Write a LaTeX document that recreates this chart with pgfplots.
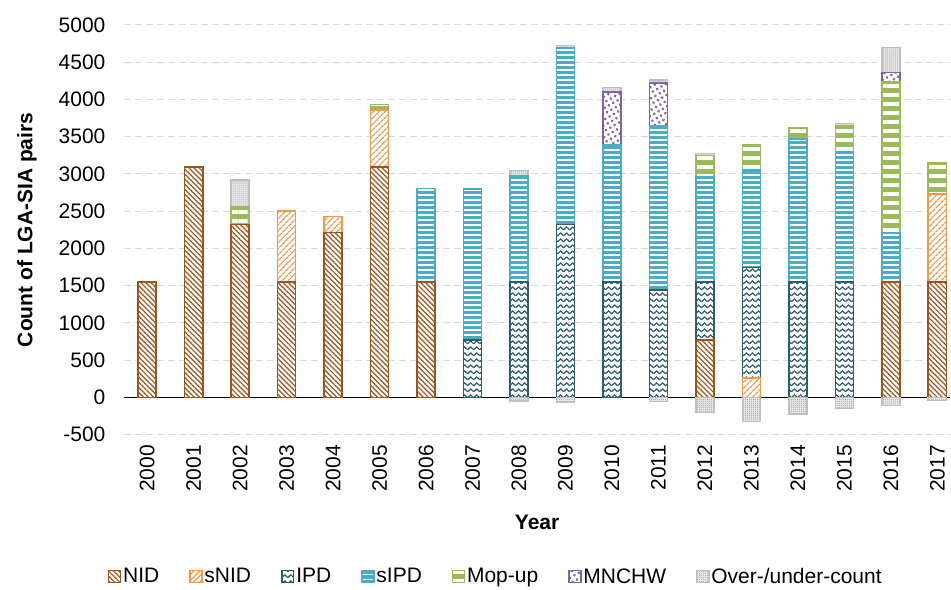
\documentclass[border=0pt]{standalone}
\usepackage{pgfplots}
\pgfplotsset{compat=1.18}
\usepackage{fontspec}
\setmainfont{Liberation Sans}
\usetikzlibrary{patterns,patterns.meta}

\definecolor{nidc}{HTML}{A0521A}
\definecolor{snidc}{HTML}{F79646}
\definecolor{ipdc}{HTML}{2D5E6C}
\definecolor{sipdc}{HTML}{4BACC6}
\definecolor{mopc}{HTML}{9BBB59}
\definecolor{mnc}{HTML}{8064A2}
\definecolor{ovc}{HTML}{BFBFBF}
\definecolor{gridc}{HTML}{D9D9D9}

\tikzdeclarepattern{
  name=zigzag,
  type=uncolored,
  bounding box={(-0.8pt,-0.8pt) and (6.8pt,3.6pt)},
  tile size={(6pt,6pt)},
  code={\draw[line width=1.2pt] (0pt,0pt) -- (3pt,2.8pt) -- (6pt,0pt);}
}

\begin{document}
\begin{tikzpicture}
\begin{axis}[
  scale only axis, width=827pt, height=410pt,
  xmin=-0.5, xmax=17.28, ymin=-500, ymax=5000,
  xtick={0,...,17},
  xticklabels={2000,2001,2002,2003,2004,2005,2006,2007,2008,2009,2010,2011,2012,2013,2014,2015,2016,2017},
  ytick={-500,0,500,1000,1500,2000,2500,3000,3500,4000,4500,5000},
  axis line style={draw=none}, tick style={draw=none},
  ymajorgrids,
  major grid style={draw=gridc, line width=1pt, dash pattern=on 7pt off 4pt},
  extra y ticks={0}, extra y tick labels={},
  extra y tick style={grid=major, major grid style={solid, draw=black, line width=1.3pt}},
  /pgf/number format/assume math mode=true,
  /pgf/number format/1000 sep={},
  ticklabel style={font=\fontsize{21}{25}\selectfont},
  xticklabel style={rotate=90, anchor=east},
  xticklabel shift=7pt,
  yticklabel shift=15pt,
  xlabel={Year}, ylabel={Count of LGA-SIA pairs},
  every axis x label/.style={at={(axis description cs:0.5,-0.2146)}, anchor=center, font=\bfseries\fontsize{21}{25}\selectfont},
  every axis y label/.style={at={(axis description cs:-0.1173,0.5)}, rotate=90, anchor=center, font=\bfseries\fontsize{21}{25}\selectfont},
  every axis plot/.append style={ybar, bar width=0.39, bar shift=0pt, line width=1.6pt},
  legend style={at={(axis description cs:0.45,-0.346)}, anchor=center, draw=none, fill=none,
    font=\fontsize{21}{25}\selectfont,
    /tikz/every even column/.append style={column sep=28pt}},
  legend columns=7,
  legend cell align=left,
  reverse legend,
  legend image code/.code={\draw[#1, line width=1.2pt] (0pt,-6pt) rectangle (12pt,6pt);},
]
% Over-/under-count (top of stack)
\addplot[draw=ovc, preaction={fill=gray!18},
  preaction={pattern={Dots[distance=2pt,radius=0.55pt]}, pattern color=gray!70}]
  coordinates {(2,2915) (8,3045) (9,4725) (10,4160) (11,4260) (12,3275) (15,3680) (16,4695)};
\addlegendentry{Over-/under-count}
% MNCHW
\addplot[draw=mnc, preaction={fill=white},
  preaction={pattern={Dots[distance=5pt,radius=1.5pt,angle=30]}, pattern color=mnc}]
  coordinates {(10,4100) (11,4225) (16,4360)};
\addlegendentry{MNCHW}
% Mop-up
\addplot[draw=mopc, preaction={fill=mopc},
  preaction={pattern={Lines[angle=0,distance=9pt,line width=4pt]}, pattern color=white}]
  coordinates {(2,2555) (5,3935) (12,3250) (13,3385) (14,3620) (15,3640) (16,4240) (17,3145)};
\addlegendentry{Mop-up}
% sIPD
\addplot[draw=sipdc, preaction={fill=sipdc},
  preaction={pattern={Lines[angle=0,distance=5pt,line width=1.6pt]}, pattern color=white}]
  coordinates {(6,2805) (7,2800) (8,2980) (9,4690) (10,3385) (11,3650) (12,2965) (13,3055) (14,3470) (15,3300) (16,2205)};
\addlegendentry{sIPD}
% IPD
\addplot[draw=ipdc, preaction={fill=white},
  preaction={pattern=zigzag, pattern color=ipdc}]
  coordinates {(7,774) (8,1548) (9,2322) (10,1548) (11,1446) (12,1548) (13,1745) (14,1548) (15,1548)};
\addlegendentry{IPD}
% sNID
\addplot[draw=snidc, preaction={fill=white},
  preaction={pattern={Lines[angle=45,distance=4pt,line width=1.3pt]}, pattern color=snidc}]
  coordinates {(3,2500) (4,2430) (5,3860) (13,260) (17,2730)};
\addlegendentry{sNID}
% NID
\addplot[draw=nidc, preaction={fill=white},
  preaction={pattern={Lines[angle=-45,distance=3.6pt,line width=1.2pt]}, pattern color=nidc}]
  coordinates {(0,1548) (1,3096) (2,2322) (3,1548) (4,2215) (5,3096) (6,1548) (12,774) (16,1548) (17,1548)};
\addlegendentry{NID}
% Over-/under-count, negative part
\addplot[forget plot, draw=ovc, preaction={fill=gray!18},
  preaction={pattern={Dots[distance=2pt,radius=0.55pt]}, pattern color=gray!70}]
  coordinates {(8,-45) (9,-65) (11,-55) (12,-200) (13,-325) (14,-225) (15,-150) (16,-110) (17,-40)};
\end{axis}
\path ([xshift=-124pt,yshift=-155pt]current axis.south west) rectangle ([yshift=25pt]current axis.north east);
\end{tikzpicture}
\end{document}
